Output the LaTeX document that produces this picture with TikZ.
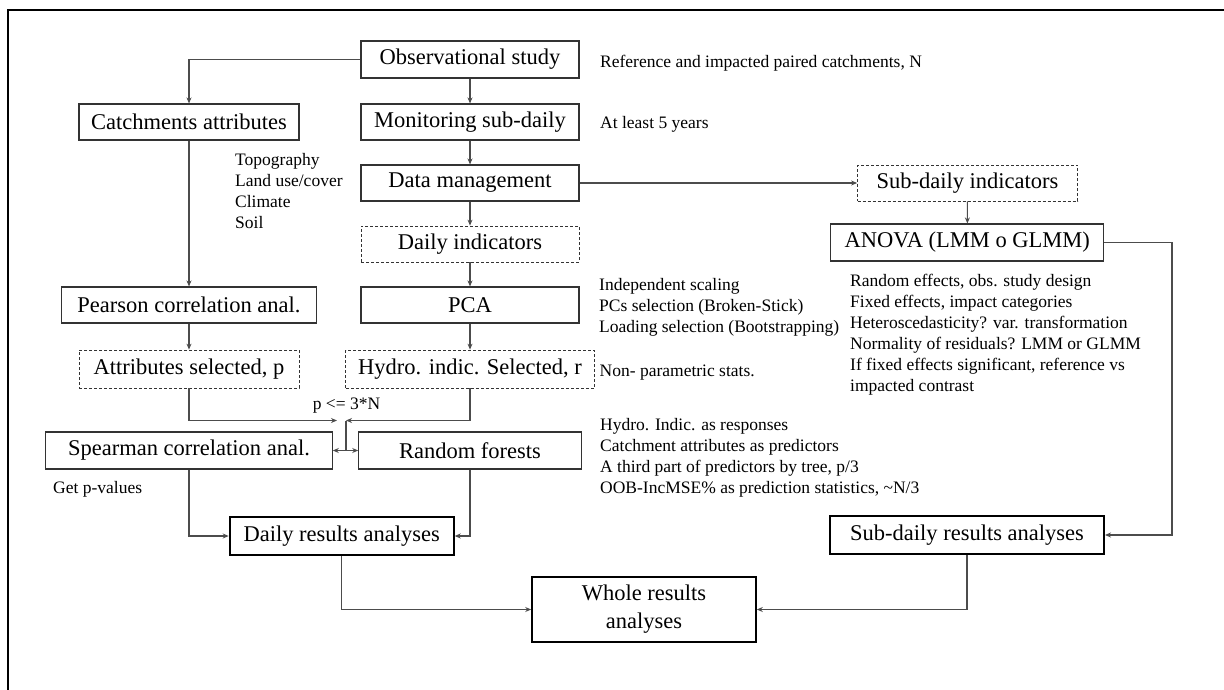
\documentclass[tikz,border=0pt]{standalone}
\usepackage{fontspec}
\setmainfont{Liberation Serif}
\usetikzlibrary{arrows.meta}
\begin{document}
\begin{tikzpicture}[x=1pt,y=-1pt,
  box/.style={draw=black!80, line width=1.1pt, inner sep=0pt, minimum height=36pt, font=\fontsize{22.5}{27}\selectfont},
  dbox/.style={box, dash pattern=on 3pt off 2pt, line width=0.8pt},
  tbox/.style={box, draw=black, line width=2pt},
  note/.style={inner sep=0pt, anchor=north west, align=left, font=\fontsize{17.5}{21}\selectfont},
  con/.style={draw=black!70, line width=1.1pt},
  arr/.style={con, -{Stealth[length=6pt,width=5pt]}},
]
\useasboundingbox (0,0) rectangle (1224,690);
\draw[line width=2pt] (8.3,691) -- (8.3,10) -- (1225,10);

% boxes
\node[box, minimum width=218pt, minimum height=37pt] (obs) at (470,59.5) {Observational study};
\node[box, minimum width=220pt] (catch) at (189,122) {Catchments attributes};
\node[box, minimum width=218pt] (mon) at (470,122) {Monitoring sub-daily};
\node[box, minimum width=218pt] (dm) at (470,183) {Data management};
\node[dbox, minimum width=218pt] (daily) at (470,244) {Daily indicators};
\node[box, minimum width=255pt] (pear) at (189,305) {Pearson correlation anal.};
\node[box, minimum width=218pt] (pca) at (470,305) {PCA};
\node[dbox, minimum width=220pt, minimum height=38pt] (attr) at (189,369) {Attributes selected, p};
\node[dbox, minimum width=248.5pt, minimum height=38pt] (hydro) at (470,369) {Hydro. indic. Selected, r};
\node[box, minimum width=286.5pt, minimum height=37pt] (spear) at (189,450.5) {Spearman correlation anal.};
\node[box, minimum width=222.5pt, minimum height=37pt] (rf) at (470,450.5) {Random forests};
\node[tbox, minimum width=224pt, minimum height=38pt] (dra) at (341.7,536) {Daily results analyses};
\node[tbox, minimum width=223.6pt, minimum height=65pt, align=center, font=\fontsize{22.5}{28}\selectfont] (whole) at (644,609.5) {Whole results\\analyses};
\node[dbox, minimum width=220pt] (subind) at (967.5,183) {Sub-daily indicators};
\node[box, minimum width=273pt, minimum height=37pt] (anova) at (967.3,242.5) {ANOVA (LMM o GLMM)};
\node[tbox, minimum width=274pt, minimum height=38pt] (sdra) at (967,535) {Sub-daily results analyses};

% notes
\node[note] (n1) at (600,54.5) {Reference and impacted paired catchments, N};
\node[note] (n2) at (600,116.5) {At least 5 years};
\node[note] (n3) at (235,152.7) {Topography\\Land use/cover\\Climate\\Soil};
\node[note] (n4) at (599,278) {Independent scaling\\PCs selection (Broken-Stick)\\Loading selection (Bootstrapping)};
\node[note] (n5) at (850,273.7) {Random effects, obs. study design\\Fixed effects, impact categories\\Heteroscedasticity? var. transformation\\Normality of residuals? LMM or GLMM\\If fixed effects significant, reference vs\\impacted contrast};
\node[note] (n6) at (599.5,364.5) {Non- parametric stats.};
\node[note] (n7) at (600,418) {Hydro. Indic. as responses\\Catchment attributes as predictors\\A third part of predictors by tree, p/3\\OOB-IncMSE\% as prediction statistics, \textasciitilde N/3};
\node[note] (n8) at (53,481.3) {Get p-values};
\node[note, anchor=base] (n9) at (346.5,409) {p <= 3*N};

% connectors
\coordinate (jl) at (337,420.5);
\coordinate (jr) at (346,420.5);
\coordinate (ra) at (1172,242.5);
\draw[arr] (obs.west) -| (catch.north);
\draw[arr] (obs) -- (mon);
\draw[arr] (mon) -- (dm);
\draw[arr] (dm) -- (daily);
\draw[arr] (daily) -- (pca);
\draw[arr] (catch) -- (pear);
\draw[arr] (pear) -- (attr);
\draw[arr] (pca) -- (hydro);
\draw[arr] (dm.east) -- (subind.west);
\draw[arr] (subind) -- (anova);
\draw[arr] (attr.south) |- (jl);
\draw[arr] (hydro.south) |- (jr);
\draw[con] (jr) -- (jr |- spear.east);
\draw[con, {Stealth[length=6pt,width=5pt]}-{Stealth[length=6pt,width=5pt]}] (spear.east) -- (rf.west);
\draw[arr] (spear.south) |- (dra.west);
\draw[arr] (rf.south) |- (dra.east);
\draw[arr] (dra.south) |- (whole.west);
\draw[arr] (anova.east) -- (ra) |- (sdra.east);
\draw[arr] (sdra.south) |- (whole.east);
\end{tikzpicture}
\end{document}
